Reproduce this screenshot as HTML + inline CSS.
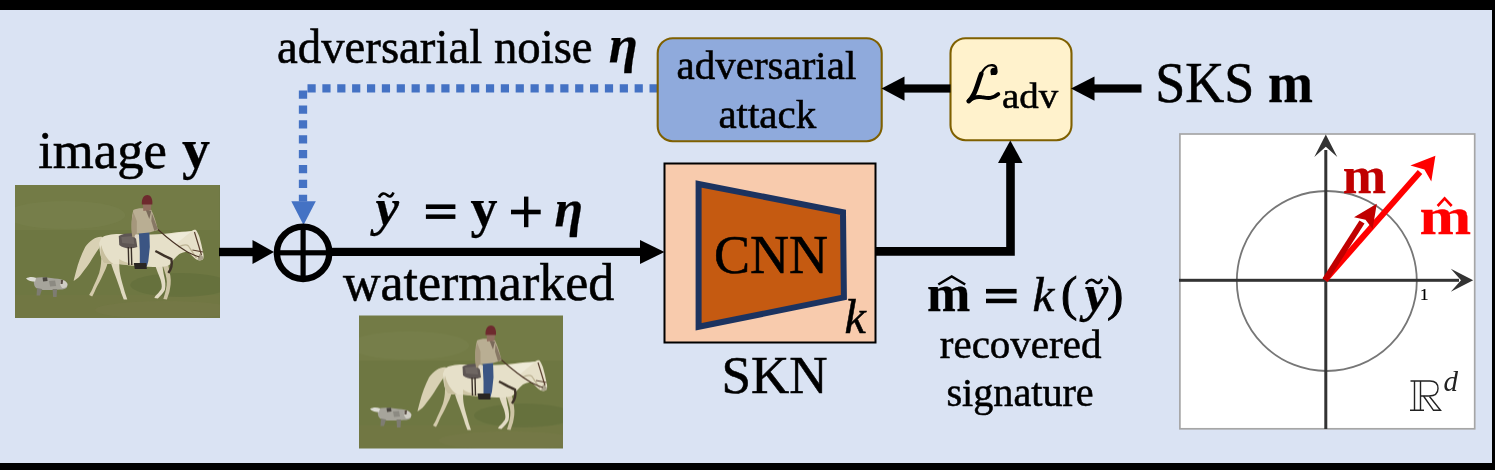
<!DOCTYPE html>
<html><head><meta charset="utf-8">
<style>
html,body{margin:0;padding:0;width:1495px;height:470px;overflow:hidden;background:#DAE3F3;}
svg{display:block;will-change:transform;}
text{font-family:"Liberation Serif",serif;stroke:currentColor;stroke-width:0.55px;}
</style></head>
<body>
<svg width="1495" height="470" viewBox="0 0 1495 470">

<rect x="0" y="0" width="1495" height="470" fill="#DAE3F3"/>

<!-- top text -->
<g transform="translate(0,62.8) scale(1,1.035) translate(0,-62.8)"><text x="277" y="62.8" font-size="46.8" fill="#000">adversarial noise</text></g>
<text x="608.8" y="62.3" font-size="53" font-weight="bold" style="stroke-width:0.25px" font-style="italic" fill="#000">η</text>

<!-- blue dotted connector -->
<path d="M657.7,88.4 H303 V201.5" fill="none" stroke="#4472C4" stroke-width="8.3" stroke-dasharray="8.2 6.67"/>
<path d="M291.3,201.3 H315.8 L303.5,225 Z" fill="#4472C4"/>

<!-- adversarial attack box -->
<rect x="657.7" y="38.2" width="224" height="103" rx="15" ry="15" fill="#8FAADC" stroke="#7F6000" stroke-width="2.1"/>
<text x="676.5" y="79.4" font-size="41">adversarial</text>
<text x="718.4" y="128.3" font-size="41">attack</text>

<!-- L_adv box -->
<rect x="950.5" y="38.2" width="121" height="102" rx="15" ry="15" fill="#FFF2CC" stroke="#7F6000" stroke-width="2.1"/>
<g transform="translate(960,58) scale(0.10638)" fill="none" stroke="#000" stroke-linecap="round">
  <circle cx="320" cy="126" r="34" fill="#000" stroke="none"/>
  <path d="M300,150 C350,130 355,75 305,68 C255,62 215,110 195,160" stroke-width="22"/>
  <path d="M200,150 C175,210 160,280 130,340 C115,370 100,392 82,405" stroke-width="44"/>
  <path d="M82,405 C110,378 150,362 200,368 C250,375 300,392 360,338" stroke-width="36"/>
</g>
<text x="1002" y="108.2" font-size="36" transform="translate(1002,108.2) scale(1.08,0.97) translate(-1002,-108.2)">adv</text>

<!-- arrows top -->
<rect x="1093" y="84.4" width="48.5" height="8.2" fill="#000"/>
<path d="M1094.5,76.4 V100.8 L1071,88.5 Z" fill="#000"/>
<rect x="903" y="84.4" width="47.5" height="8.2" fill="#000"/>
<path d="M904.5,76.4 V100.8 L881.5,88.5 Z" fill="#000"/>

<g transform="translate(0,102.1) scale(1,1.045) translate(0,-102.1)"><text x="1155.2" y="102.1" font-size="54">SKS</text>
<text x="1267.9" y="102.1" font-size="54" font-weight="bold" style="stroke-width:0.25px">m</text></g>

<!-- image y -->
<text x="38.2" y="168.3" font-size="52.7">image</text>
<text x="182" y="168.3" font-size="56" font-weight="bold" style="stroke-width:0.25px">y</text>

<svg x="15" y="185" width="204.5" height="133" viewBox="0 0 204 133" preserveAspectRatio="none" overflow="hidden">
  <rect x="0" y="0" width="204" height="133" fill="#6e7742"/>
  <rect x="0" y="0" width="204" height="45" fill="#767e49" opacity="0.6"/>
  <rect x="0" y="110" width="204" height="23" fill="#737744" opacity="0.5"/>
  <ellipse cx="50" cy="30" rx="60" ry="14" fill="#7b8450" opacity="0.4"/>
  <ellipse cx="165" cy="100" rx="50" ry="12" fill="#5a6a36" opacity="0.4"/>
  <ellipse cx="150" cy="125" rx="70" ry="9" fill="#7a7a4c" opacity="0.4"/>
  <!-- tail -->
  <path d="M87,52 C82,51 75,55 70,62 C66,70 63,78 61,86 C60,90 59,93 58.5,96 C62,94 65,91 67,88 C70,84 73,80 75,77 C78,72 81,67 84,63 Z" fill="#d9d1b4"/>
  <!-- far hind leg -->
  <path d="M86,74 C86,80 85,84 84,88 C82,93 80,98 78,102 C77,105 75,108 74,110 L77,111.5 C79,108 80,105 82,101 C85,96 87,91 89,87 C91,83 92,80 93,76 Z" fill="#d3caab"/>
  <!-- near hind leg -->
  <path d="M95,76 C97,82 99,88 101,93 C103,99 105,104 106,108 L108.5,114.5 L112,114.5 L109.5,107 C108,101 106,95 105,90 C104,85 104,81 104,77 Z" fill="#e0d9c0"/>
  <!-- far front leg -->
  <path d="M146,76 C148,82 150,88 151,93 C152,98 151,103 150,107 L148,114 L151.5,114.5 L154,107 C155,102 156,97 155,91 C154,86 153,80 152,76 Z" fill="#cdc4a4"/>
  <!-- near front leg -->
  <path d="M139,78 C141,84 143,89 145,94 C146,98 147,101 146,104 C144,107 142,109 140,111 L139,113 L142.5,113.5 C145,111 148,108 149.5,105 C150.5,101 150,96 149,92 C148,88 147,82 147,78 Z" fill="#e2dbc4"/>
  <!-- body + neck + head -->
  <path d="M86,53 C90,50 96,49 104,49 C114,49.5 126,49.5 136,49.5 C144,49 150,49 156,48 C163,47 170,46.5 176,46 C178,45 179.5,44.5 180.5,45 C182,47 183,49 184,52 C185.5,57 186.5,62 187.5,67 C188.5,71 188.5,74 186.5,75 C184,76 181,75 179,73 C176,70 174,68 172,66.5 C169,67 166,68 164,69 C160,72 157,76 154,80 C150,82 144,82 138,82 C130,82 122,81 114,80 C108,79 102,79 97,79 C93,79 90,78.5 88,77.5 C85,72 84,64 84,58 Z" fill="#e6e0c9"/>
  <!-- shading -->
  <path d="M86,60 C88,68 92,75 98,79 C93,79 90,78.5 88,77.5 C85,72 84.5,66 86,60 Z" fill="#c8bf9e"/>
  <path d="M104,74 C110,78 120,80 132,81 C122,81.5 112,80.5 104,79 Z" fill="#cfc6a6"/>
  <path d="M150,50 C160,48 168,47 176,46.5 C170,51 164,56 160,60 C156,57 152,54 150,50 Z" fill="#f0ecdc" opacity="0.8"/>
  <path d="M163,62 C167,60 171,59 173,61 C175,64 178,69 181,73" fill="none" stroke="#bdb394" stroke-width="1.3"/>
  <path d="M184,69 C186,70 188,71 188,73.5 C187,75.5 184,75.5 182,74.5 Z" fill="#a8a08a"/>
  <!-- bridle / reins -->
  <path d="M179,47 L183,60 L186,70" fill="none" stroke="#5a4030" stroke-width="1.2"/>
  <path d="M177,65 L187.5,67" fill="none" stroke="#5a4030" stroke-width="1"/>
  <path d="M142,44 C152,53 162,61 172,67 C176,69 180,71 184,72" fill="none" stroke="#4a3426" stroke-width="1.1"/>
  <!-- breast strap -->
  <path d="M140,66 C146,69 151,72 156,74 C157,79 156,84 153,88" fill="none" stroke="#3e3228" stroke-width="2.4"/>
  <!-- saddle -->
  <path d="M103.5,51 C108,48.5 114,48 120,48.5 L122,62 C116,64.5 108,63.5 104,60 Z" fill="#5e5654"/>
  <path d="M106,52 L118,51 L119,59 L107,58 Z" fill="#7a716c" opacity="0.6"/>
  <path d="M113,62 L113.5,80 M116,62 L116.5,80" stroke="#3a3028" stroke-width="1.4"/>
  <!-- jeans -->
  <path d="M123.5,46 L134,46 L134.5,62 L133,76 L131.5,81.5 L124.5,81.5 L124.5,66 Z" fill="#3b5583"/>
  <!-- boot -->
  <path d="M118.5,78 L131,78 L131.5,84 L119.5,84 Z" fill="#2a2622"/>
  <!-- torso -->
  <path d="M118,25 C122,22.5 131,22.5 136,25 C139,31 141,38 142.5,45 L134,47.5 L123.5,48.5 L117,50 C116,41 116,32 118,25 Z" fill="#b9ae93"/>
  <path d="M118,27 C116,36 115.5,44 117,52 L121.5,53 L121.5,36 Z" fill="#a5977c"/>
  <path d="M130,24 L136,26 L134,34 Z" fill="#7a6a5a"/>
  <path d="M136.5,28 L142.5,44 L139,46 L136,36 Z" fill="#877864"/>
  <circle cx="121.5" cy="51.5" r="2.2" fill="#ddd6c8"/>
  <!-- face/hat -->
  <path d="M127.5,18 L136,18 L135.5,25 L128,26 Z" fill="#917060"/>
  <path d="M126.5,19.5 C126,13 129,10 132,10 C135,10 137.5,13 137,19.5 Z" fill="#6e2a2e"/>
  <!-- dog -->
  <path d="M19,93 C24,92 30,92 36,93 C41,93.5 45,94 48,95 C51,96 52.5,99 52,102 C51,104 48,104.5 45,104.5 C40,105 35,105 30,105 C25,105 21,104 19.5,101 C18.5,98 18.5,95 19,93 Z" fill="#a6a49b"/>
  <path d="M11,93.5 C14,91.5 18,91.5 21,93 L20,96.5 C17,96.5 13,96 11,93.5 Z" fill="#dcdcd4"/>
  <path d="M27.5,92.5 L32,92.2 L32.5,96 L28,96.5 Z" fill="#4a4640"/>
  <path d="M45,95 C48,94.5 51,96 52.5,99 C52.5,102 50,103.5 47,103 C45,101 44.5,98 45,95 Z" fill="#cfcdc4"/>
  <path d="M45.5,95 L48,95 L47.5,99 L45.5,99 Z" fill="#5a4e46"/>
  <path d="M22,103 L21.5,110.5 L25,110.5 L27,104 Z M37.5,104 L38,112 L41.5,112 L42,104 Z" fill="#7e7c72"/>
  <path d="M34,96 L40,95.5 L41,101 L35,101.5 Z" fill="#7c7a72" opacity="0.6"/>
</svg>
<svg x="359" y="315.5" width="204" height="133" viewBox="0 0 204 133" preserveAspectRatio="none" overflow="hidden">
  <rect x="0" y="0" width="204" height="133" fill="#6e7742"/>
  <rect x="0" y="0" width="204" height="45" fill="#767e49" opacity="0.6"/>
  <rect x="0" y="110" width="204" height="23" fill="#737744" opacity="0.5"/>
  <ellipse cx="50" cy="30" rx="60" ry="14" fill="#7b8450" opacity="0.4"/>
  <ellipse cx="165" cy="100" rx="50" ry="12" fill="#5a6a36" opacity="0.4"/>
  <ellipse cx="150" cy="125" rx="70" ry="9" fill="#7a7a4c" opacity="0.4"/>
  <!-- tail -->
  <path d="M87,52 C82,51 75,55 70,62 C66,70 63,78 61,86 C60,90 59,93 58.5,96 C62,94 65,91 67,88 C70,84 73,80 75,77 C78,72 81,67 84,63 Z" fill="#d9d1b4"/>
  <!-- far hind leg -->
  <path d="M86,74 C86,80 85,84 84,88 C82,93 80,98 78,102 C77,105 75,108 74,110 L77,111.5 C79,108 80,105 82,101 C85,96 87,91 89,87 C91,83 92,80 93,76 Z" fill="#d3caab"/>
  <!-- near hind leg -->
  <path d="M95,76 C97,82 99,88 101,93 C103,99 105,104 106,108 L108.5,114.5 L112,114.5 L109.5,107 C108,101 106,95 105,90 C104,85 104,81 104,77 Z" fill="#e0d9c0"/>
  <!-- far front leg -->
  <path d="M146,76 C148,82 150,88 151,93 C152,98 151,103 150,107 L148,114 L151.5,114.5 L154,107 C155,102 156,97 155,91 C154,86 153,80 152,76 Z" fill="#cdc4a4"/>
  <!-- near front leg -->
  <path d="M139,78 C141,84 143,89 145,94 C146,98 147,101 146,104 C144,107 142,109 140,111 L139,113 L142.5,113.5 C145,111 148,108 149.5,105 C150.5,101 150,96 149,92 C148,88 147,82 147,78 Z" fill="#e2dbc4"/>
  <!-- body + neck + head -->
  <path d="M86,53 C90,50 96,49 104,49 C114,49.5 126,49.5 136,49.5 C144,49 150,49 156,48 C163,47 170,46.5 176,46 C178,45 179.5,44.5 180.5,45 C182,47 183,49 184,52 C185.5,57 186.5,62 187.5,67 C188.5,71 188.5,74 186.5,75 C184,76 181,75 179,73 C176,70 174,68 172,66.5 C169,67 166,68 164,69 C160,72 157,76 154,80 C150,82 144,82 138,82 C130,82 122,81 114,80 C108,79 102,79 97,79 C93,79 90,78.5 88,77.5 C85,72 84,64 84,58 Z" fill="#e6e0c9"/>
  <!-- shading -->
  <path d="M86,60 C88,68 92,75 98,79 C93,79 90,78.5 88,77.5 C85,72 84.5,66 86,60 Z" fill="#c8bf9e"/>
  <path d="M104,74 C110,78 120,80 132,81 C122,81.5 112,80.5 104,79 Z" fill="#cfc6a6"/>
  <path d="M150,50 C160,48 168,47 176,46.5 C170,51 164,56 160,60 C156,57 152,54 150,50 Z" fill="#f0ecdc" opacity="0.8"/>
  <path d="M163,62 C167,60 171,59 173,61 C175,64 178,69 181,73" fill="none" stroke="#bdb394" stroke-width="1.3"/>
  <path d="M184,69 C186,70 188,71 188,73.5 C187,75.5 184,75.5 182,74.5 Z" fill="#a8a08a"/>
  <!-- bridle / reins -->
  <path d="M179,47 L183,60 L186,70" fill="none" stroke="#5a4030" stroke-width="1.2"/>
  <path d="M177,65 L187.5,67" fill="none" stroke="#5a4030" stroke-width="1"/>
  <path d="M142,44 C152,53 162,61 172,67 C176,69 180,71 184,72" fill="none" stroke="#4a3426" stroke-width="1.1"/>
  <!-- breast strap -->
  <path d="M140,66 C146,69 151,72 156,74 C157,79 156,84 153,88" fill="none" stroke="#3e3228" stroke-width="2.4"/>
  <!-- saddle -->
  <path d="M103.5,51 C108,48.5 114,48 120,48.5 L122,62 C116,64.5 108,63.5 104,60 Z" fill="#5e5654"/>
  <path d="M106,52 L118,51 L119,59 L107,58 Z" fill="#7a716c" opacity="0.6"/>
  <path d="M113,62 L113.5,80 M116,62 L116.5,80" stroke="#3a3028" stroke-width="1.4"/>
  <!-- jeans -->
  <path d="M123.5,46 L134,46 L134.5,62 L133,76 L131.5,81.5 L124.5,81.5 L124.5,66 Z" fill="#3b5583"/>
  <!-- boot -->
  <path d="M118.5,78 L131,78 L131.5,84 L119.5,84 Z" fill="#2a2622"/>
  <!-- torso -->
  <path d="M118,25 C122,22.5 131,22.5 136,25 C139,31 141,38 142.5,45 L134,47.5 L123.5,48.5 L117,50 C116,41 116,32 118,25 Z" fill="#b9ae93"/>
  <path d="M118,27 C116,36 115.5,44 117,52 L121.5,53 L121.5,36 Z" fill="#a5977c"/>
  <path d="M130,24 L136,26 L134,34 Z" fill="#7a6a5a"/>
  <path d="M136.5,28 L142.5,44 L139,46 L136,36 Z" fill="#877864"/>
  <circle cx="121.5" cy="51.5" r="2.2" fill="#ddd6c8"/>
  <!-- face/hat -->
  <path d="M127.5,18 L136,18 L135.5,25 L128,26 Z" fill="#917060"/>
  <path d="M126.5,19.5 C126,13 129,10 132,10 C135,10 137.5,13 137,19.5 Z" fill="#6e2a2e"/>
  <!-- dog -->
  <path d="M19,93 C24,92 30,92 36,93 C41,93.5 45,94 48,95 C51,96 52.5,99 52,102 C51,104 48,104.5 45,104.5 C40,105 35,105 30,105 C25,105 21,104 19.5,101 C18.5,98 18.5,95 19,93 Z" fill="#a6a49b"/>
  <path d="M11,93.5 C14,91.5 18,91.5 21,93 L20,96.5 C17,96.5 13,96 11,93.5 Z" fill="#dcdcd4"/>
  <path d="M27.5,92.5 L32,92.2 L32.5,96 L28,96.5 Z" fill="#4a4640"/>
  <path d="M45,95 C48,94.5 51,96 52.5,99 C52.5,102 50,103.5 47,103 C45,101 44.5,98 45,95 Z" fill="#cfcdc4"/>
  <path d="M45.5,95 L48,95 L47.5,99 L45.5,99 Z" fill="#5a4e46"/>
  <path d="M22,103 L21.5,110.5 L25,110.5 L27,104 Z M37.5,104 L38,112 L41.5,112 L42,104 Z" fill="#7e7c72"/>
  <path d="M34,96 L40,95.5 L41,101 L35,101.5 Z" fill="#7c7a72" opacity="0.6"/>
</svg>

<!-- arrow image -> oplus -->
<rect x="219" y="247.8" width="34" height="8.4" fill="#000"/>
<path d="M252.5,240 V264 L274,252 Z" fill="#000"/>
<!-- oplus -->
<circle cx="303.1" cy="252.8" r="26.2" fill="none" stroke="#000" stroke-width="6.4"/>
<rect x="300.5" y="226" width="5.2" height="54" fill="#000"/>
<rect x="276" y="250.2" width="54" height="5.2" fill="#000"/>
<!-- arrow oplus -> CNN -->
<rect x="332" y="247.8" width="309" height="8.2" fill="#000"/>
<path d="M640,240 V264 L664.5,252 Z" fill="#000"/>

<!-- equation -->
<text x="375.5" y="225.4" font-size="53" font-weight="bold" style="stroke-width:0.25px" font-style="italic">y</text>
<path d="M379,197.5 C381.5,192.5 384.5,193 387,195 C389,197 391.5,197.5 393.5,192.5" fill="none" stroke="#000" stroke-width="2.6"/>
<rect x="425.9" y="204.4" width="29.5" height="4.6"/><rect x="425.9" y="214.4" width="29.5" height="4.5"/>
<text x="470.5" y="226" font-size="54" font-weight="bold" style="stroke-width:0.25px">y</text>
<rect x="511" y="209.7" width="29.7" height="4.6"/><rect x="524" y="196.6" width="4.4" height="30.6"/>
<text x="554.6" y="226" font-size="52" font-weight="bold" style="stroke-width:0.25px" font-style="italic">η</text>

<text x="342.9" y="300.4" font-size="52">watermarked</text>

<!-- CNN box -->
<rect x="664.5" y="163.5" width="211" height="179" fill="#F8CBAD" stroke="#000" stroke-width="2"/>
<path d="M698.6,184 L843,212.3 L843.9,297.4 L698.6,326.8 Z" fill="#C55A11" stroke="#1c3360" stroke-width="6" stroke-linejoin="miter"/>
<text x="714" y="273" font-size="54">CNN</text>
<text x="844.4" y="332.5" font-size="48" font-style="italic">k</text>
<text x="721.5" y="393.4" font-size="53">SKN</text>

<!-- CNN -> Ladv -->
<path d="M875,251.4 H1010.5 V162" fill="none" stroke="#000" stroke-width="8.6"/>
<path d="M998,163 H1022.6 L1010.3,140.4 Z" fill="#000"/>

<!-- m hat = k(y~) -->
<text x="927.1" y="310.7" font-size="52" font-weight="bold" style="stroke-width:0.25px">m</text>
<path d="M938.3,284.5 L951.7,276.5 L965.2,284.5" fill="none" stroke="#000" stroke-width="2.6"/>
<rect x="986" y="288.9" width="30.6" height="4.6"/><rect x="986" y="298.7" width="30.6" height="4.5"/>
<text x="1032.6" y="310.7" font-size="49" font-style="italic">k</text>
<text x="1061" y="309.5" font-size="49" style="stroke-width:1px">(</text>
<text x="1084.7" y="311.2" font-size="53" font-weight="bold" style="stroke-width:0.25px" font-style="italic">y</text>
<path d="M1086,284 C1089,278.5 1093,279.5 1095,281.5 C1097,283.5 1100,284 1102,279" fill="none" stroke="#000" stroke-width="2.6"/>
<text x="1107" y="309.5" font-size="49" style="stroke-width:1px">)</text>
<text x="939.8" y="357.9" font-size="41">recovered</text>
<text x="946.4" y="406.2" font-size="40.2">signature</text>

<!-- plot -->
<rect x="1179.9" y="134" width="294.8" height="294.8" fill="#FFFFFF" stroke="#A6A6A6" stroke-width="1.7"/>
<circle cx="1326.8" cy="281" r="90" fill="none" stroke="#777" stroke-width="1.8"/>
<rect x="1179" y="278.8" width="280" height="3" fill="#333"/>
<path d="M1473.2,280.3 L1450.8,268.8 L1461,280.3 L1450.8,291.8 Z" fill="#333"/>
<rect x="1324.3" y="150" width="3" height="279" fill="#333"/>
<path d="M1325.8,134.6 L1314.3,157 L1325.8,146.8 L1337.3,157 Z" fill="#333"/>

<text x="1420" y="299.6" font-size="17" style="stroke-width:0.2px">1</text>
<g fill="none" stroke="#222" stroke-width="1.4">
<path d="M1410.5,381 H1430 C1435.5,381 1438,384 1438,388.5 C1438,393 1435,396 1429,396 H1420.5"/>
<path d="M1414.5,381 V410 M1420.5,381 V410 M1410,410.3 H1424"/>
<path d="M1423.5,396 L1433.5,410.3 H1440.5 L1429.5,396.5"/>
</g>
<text x="1443.5" y="390.8" font-size="29" font-style="italic" fill="#222" style="stroke-width:0;color:#222">d</text>

<!-- red arrows -->
<line x1="1325" y1="280" x2="1420" y2="172" stroke="#FF0000" stroke-width="6"/>
<path d="M1435.4,155.8 L1410.4,165.5 L1424.4,169.5 L1431.3,181.5 Z" fill="#FF0000"/>
<line x1="1325" y1="280" x2="1362" y2="222" stroke="#C00000" stroke-width="6"/>
<path d="M1376.8,203.7 L1354,217.2 L1365.5,219.7 L1372.6,229 Z" fill="#C00000"/>
<text x="1342.7" y="192.9" font-size="52" font-weight="bold" fill="#C00000" style="stroke-width:0.25px;color:#C00000">m</text>
<text x="0" y="0" font-size="53" font-weight="bold" fill="#FF0000" style="stroke-width:0.25px;color:#FF0000" transform="translate(1419.4,233.5) scale(1.17,1)">m</text>
<path d="M1437.6,206 L1444.6,198.4 L1451.7,206" fill="none" stroke="#FF0000" stroke-width="2.6"/>

<!-- black frame bands -->
<rect x="0" y="0" width="1495" height="10" fill="#000"/>
<rect x="0" y="463" width="1495" height="7" fill="#000"/>
<rect x="1492" y="0" width="3" height="470" fill="#000"/>
</svg>
</body></html>
